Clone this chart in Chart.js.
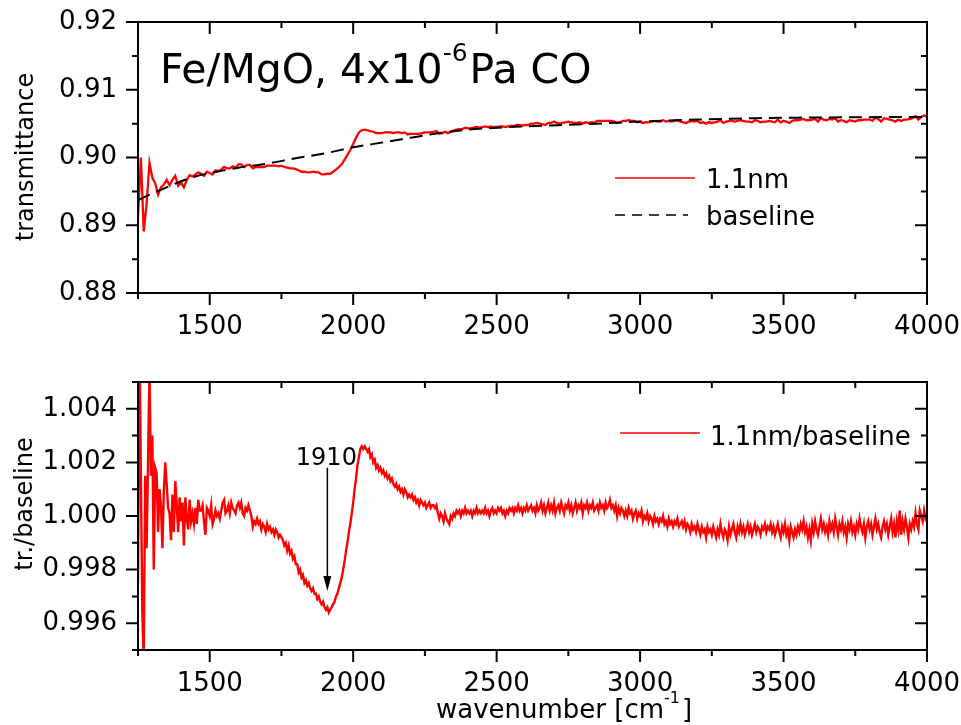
<!DOCTYPE html>
<html>
<head>
<meta charset="utf-8">
<script src="https://cdn.jsdelivr.net/npm/chart.js@4"></script>
<style>
  body { margin: 0; background: #fff; }
  .panel { position: absolute; left: 0; width: 961px; }
</style>
</head>
<body>
<div class="panel" style="top:0;height:345px"><canvas id="top-chart"></canvas></div>
<div class="panel" style="top:345px;height:380px"><canvas id="bottom-chart"></canvas></div>
<script>
const FONT = '"DejaVu Sans", sans-serif';
Chart.defaults.font.family = FONT;
Chart.defaults.color = '#000';

// ── axes ──
const X_MIN = 1250, X_MAX = 4000;
const X_MAJOR = [1500, 2000, 2500, 3000, 3500, 4000];
const X_MINOR = [1250, 1750, 2250, 2750, 3250, 3750];
const TOP_Y_MAJOR = [0.88, 0.89, 0.90, 0.91, 0.92];
const TOP_Y_MINOR = [0.885, 0.895, 0.905, 0.915];
const BOT_Y_MAJOR = [0.996, 0.998, 1.000, 1.002, 1.004];
const BOT_Y_MINOR = [0.995, 0.997, 0.999, 1.001, 1.003, 1.005];

// ── baseline (dashed) ──
const BASELINE_WN = [1250, 1300, 1350, 1400, 1450, 1500, 1550, 1600, 1700, 1800, 1900, 2000,
  2100, 2200, 2300, 2400, 2600, 2800, 3000, 3200, 3400, 3600, 4000];
const BASELINE_T = [0.8937, 0.8947, 0.8956, 0.8965, 0.8972, 0.8977, 0.8981, 0.8985, 0.8991, 0.8999, 0.9006, 0.9015,
  0.9022, 0.9029, 0.9036, 0.9041, 0.9046, 0.9049, 0.9053, 0.9056, 0.9058, 0.9059, 0.9060];

// ── 1.1nm transmittance, sampled every 10 cm-1 from 1250 ──
const TRANS_STEP = 10;
const TRANS = [
  0.8911, 0.9000, 0.8891, 0.8932, 0.8992, 0.8970, 0.8962, 0.8945, 0.8956, 0.8960,
  0.8967, 0.8959, 0.8967, 0.8973, 0.8958, 0.8963, 0.8956, 0.8967, 0.8974, 0.8972,
  0.8975, 0.8978, 0.8976, 0.8973, 0.8979, 0.8977, 0.8975, 0.8981, 0.8980, 0.8982,
  0.8986, 0.8984, 0.8984, 0.8987, 0.8985, 0.8990, 0.8990, 0.8986, 0.8989, 0.8989,
  0.8984, 0.8986, 0.8986, 0.8986, 0.8986, 0.8988, 0.8988, 0.8988, 0.8988, 0.8987,
  0.8988, 0.8986, 0.8985, 0.8984, 0.8984, 0.8983, 0.8981, 0.8979, 0.8979, 0.8978,
  0.8978, 0.8979, 0.8978, 0.8978, 0.8975, 0.8975, 0.8976, 0.8976, 0.8979, 0.8982,
  0.8986, 0.8990, 0.8997, 0.9004, 0.9011, 0.9020, 0.9029, 0.9037, 0.9040, 0.9041,
  0.9040, 0.9039, 0.9038, 0.9036, 0.9036, 0.9036, 0.9037, 0.9037, 0.9037, 0.9036,
  0.9037, 0.9037, 0.9036, 0.9037, 0.9034, 0.9035, 0.9035, 0.9035, 0.9035, 0.9036,
  0.9037, 0.9037, 0.9037, 0.9038, 0.9039, 0.9035, 0.9036, 0.9038, 0.9036, 0.9038,
  0.9040, 0.9041, 0.9042, 0.9042, 0.9044, 0.9043, 0.9043, 0.9044, 0.9045, 0.9044,
  0.9045, 0.9046, 0.9045, 0.9046, 0.9045, 0.9045, 0.9046, 0.9046, 0.9045, 0.9046,
  0.9047, 0.9046, 0.9048, 0.9048, 0.9047, 0.9048, 0.9048, 0.9050, 0.9050, 0.9051,
  0.9050, 0.9049, 0.9048, 0.9051, 0.9051, 0.9053, 0.9051, 0.9050, 0.9051, 0.9052,
  0.9053, 0.9052, 0.9051, 0.9051, 0.9052, 0.9050, 0.9052, 0.9051, 0.9052, 0.9051,
  0.9054, 0.9054, 0.9054, 0.9054, 0.9054, 0.9054, 0.9053, 0.9051, 0.9052, 0.9054,
  0.9054, 0.9055, 0.9054, 0.9054, 0.9052, 0.9053, 0.9051, 0.9052, 0.9052, 0.9053,
  0.9054, 0.9053, 0.9053, 0.9055, 0.9053, 0.9054, 0.9053, 0.9054, 0.9055, 0.9053,
  0.9052, 0.9051, 0.9053, 0.9054, 0.9053, 0.9054, 0.9051, 0.9052, 0.9050, 0.9052,
  0.9051, 0.9052, 0.9053, 0.9055, 0.9051, 0.9053, 0.9054, 0.9054, 0.9053, 0.9054,
  0.9055, 0.9054, 0.9053, 0.9053, 0.9052, 0.9055, 0.9054, 0.9052, 0.9053, 0.9053,
  0.9054, 0.9053, 0.9052, 0.9056, 0.9052, 0.9054, 0.9053, 0.9051, 0.9054, 0.9055,
  0.9055, 0.9056, 0.9057, 0.9055, 0.9055, 0.9056, 0.9057, 0.9053, 0.9058, 0.9056,
  0.9055, 0.9057, 0.9056, 0.9058, 0.9053, 0.9055, 0.9054, 0.9052, 0.9055, 0.9054,
  0.9053, 0.9055, 0.9055, 0.9056, 0.9056, 0.9056, 0.9054, 0.9059, 0.9057, 0.9053,
  0.9058, 0.9057, 0.9056, 0.9055, 0.9053, 0.9056, 0.9054, 0.9056, 0.9056, 0.9057,
  0.9058, 0.9061, 0.9056, 0.9060, 0.9062, 0.9060
];

// ── 1.1nm / baseline, sampled every 5 cm-1 from 1250; stored as (ratio - 1) x 10^4 ──
const RATIO_STEP = 5;
const RATIO_DEV = [
  -25, 70, 15, -35, -55, 15, -12, 20, 55, 15, 30, -20, 18, 16, -6, 10, 4, -12, 9, 20,
  12, 3, 1, -9, 8, -6, 13, 4, -6, 7, -2, 5, -11, 7, -1, -5, 6, -2, 1, -3,
  3, -3, 6, 2, 2, 4, -2, -7, 3, 2, 0, 4, -3, -1, 2, 0, 1, -1, 2, 5,
  6, 1, 2, 4, 1, 5, 3, 2, 1, 4, 5, 3, 5, 1, 0, 3, 2, 4, 2, 0,
  -4, -2, -3, -1, -3, -2, -5, -3, -4, -6, -3, -5, -4, -6, -5, -7, -5, -6, -8, -7,
  -8, -9, -11, -10, -13, -11, -14, -13, -16, -15, -18, -18, -21, -20, -23, -22, -25, -24, -26, -25,
  -27, -28, -27, -29, -29, -31, -30, -32, -33, -32, -34, -35, -34, -36, -35, -34, -33, -32, -30, -29,
  -27, -25, -23, -20, -17, -13, -10, -6, -3, 1, 5, 10, 14, 19, 22, 25, 26, 25, 26, 25,
  24, 25, 22, 23, 20, 21, 18, 19, 17, 18, 16, 17, 15, 16, 14, 15, 13, 14, 12, 11,
  12, 10, 11, 9, 10, 8, 10, 9, 7, 8, 7, 8, 6, 7, 5, 6, 4, 6, 5, 4,
  5, 3, 4, 5, 3, 4, 4, 3, 4, 1, -1, 1, 0, -2, 1, -1, -2, -3, 0, -1,
  1, 0, 2, 1, 2, 0, 2, 1, 3, 1, 2, 1, 2, 0, 2, 1, 3, 1, 2, 1,
  2, 1, 3, 1, 2, 0, 2, 3, 1, 2, 1, 3, 2, 3, 1, 2, 0, 2, 1, 3,
  2, 3, 1, 3, 2, 4, 2, 3, 1, 3, 2, 4, 2, 3, 4, 2, 3, 1, 4, 2,
  3, 5, 2, 4, 1, 3, 5, 2, 4, 2, 5, 1, 3, 4, 2, 5, 3, 1, 4, 3,
  5, 2, 4, 1, 3, 5, 2, 4, 3, 5, 1, 4, 3, 5, 2, 4, 3, 5, 2, 3,
  4, 2, 5, 3, 4, 2, 5, 3, 4, 6, 3, 4, 2, 4, 0, 3, 1, 3, 2, 0,
  2, 0, 3, 1, 2, -1, 1, 2, -1, 1, 0, 2, -2, 0, -1, 1, -2, 0, -1, -3,
  0, -2, -1, -3, -1, -2, 0, -3, -2, -4, -1, -3, -2, -4, -2, -3, -1, -4, -3, -2,
  -4, -2, -5, -3, -4, -6, -3, -5, -4, -6, -3, -5, -7, -4, -6, -5, -8, -4, -6, -5,
  -7, -4, -6, -8, -5, -7, -3, -6, -8, -5, -6, -9, -4, -7, -5, -3, -6, -8, -4, -6,
  -3, -6, -4, -7, -5, -3, -6, -4, -7, -5, -3, -6, -4, -5, -7, -4, -5, -3, -6, -4,
  -5, -3, -6, -4, -7, -5, -3, -6, -8, -4, -6, -3, -7, -5, -9, -4, -6, -8, -5, -7,
  -4, -6, -3, -5, -2, -6, -4, -8, -5, -9, -3, -6, -2, -5, -7, -4, -1, -5, -3, -6,
  -4, -7, -2, -5, -3, -6, -1, -4, -7, -3, -5, -2, -6, -4, -8, -3, -5, -2, -6, -4,
  -7, -3, -5, -1, -4, -6, -3, -8, -4, -2, -5, -3, -7, -4, -1, -5, -3, -6, -8, -4,
  -2, -5, -3, -7, -4, -1, -6, -3, -8, -2, -5, 2, -7, -2, -5, -1, -4, -8, -3, -5,
  -2, -4, 1, -3, -5, 2, 0, -2, 2, -1, 0
];

// ── annotation ──
const PEAK_WN = 1910;
const PEAK_LABEL = '1910';
const ARROW_FROM = 1.0018, ARROW_TO = 0.9972;

const RED = '#ff0000';

const transData = TRANS.map((t, i) => ({ x: X_MIN + i * TRANS_STEP, y: t }));
const baseData = BASELINE_WN.map((w, i) => ({ x: w, y: BASELINE_T[i] }));
const ratioData = RATIO_DEV.map((d, i) => ({ x: X_MIN + i * RATIO_STEP, y: 1 + d / 1e4 }));

// frame with mirrored ticks: left/bottom outward, top/right inward
function framePlugin(yMajor, yMinor) {
  return {
    id: 'frame',
    afterDraw(chart) {
      const { ctx, chartArea: a, scales: { x, y } } = chart;
      ctx.save();
      ctx.strokeStyle = '#000';
      ctx.lineWidth = 2;
      ctx.strokeRect(a.left, a.top, a.right - a.left, a.bottom - a.top);
      ctx.beginPath();
      [[X_MAJOR, 12], [X_MINOR, 6]].forEach(([vals, len]) => vals.forEach(v => {
        const px = x.getPixelForValue(v);
        ctx.moveTo(px, a.bottom); ctx.lineTo(px, a.bottom + len);
        ctx.moveTo(px, a.top); ctx.lineTo(px, a.top + len);
      }));
      [[yMajor, 12], [yMinor, 6]].forEach(([vals, len]) => vals.forEach(v => {
        const py = y.getPixelForValue(v);
        ctx.moveTo(a.left, py); ctx.lineTo(a.left - len, py);
        ctx.moveTo(a.right, py); ctx.lineTo(a.right - len, py);
      }));
      ctx.stroke();
      ctx.restore();
    }
  };
}

// text runs with superscripts: [text, size, dy]
function drawRuns(ctx, runs, x, y) {
  runs.forEach(([text, size, dy]) => {
    ctx.font = `${size}px ${FONT}`;
    ctx.fillText(text, x, y + (dy || 0));
    x += ctx.measureText(text).width + (dy ? 2 : 0);
  });
}

function drawYTitle(ctx, text, x, cy) {
  ctx.save();
  ctx.translate(x, cy);
  ctx.rotate(-Math.PI / 2);
  ctx.font = `24px ${FONT}`;
  ctx.textAlign = 'center';
  ctx.textBaseline = 'alphabetic';
  ctx.fillText(text, 0, 0);
  ctx.restore();
}

function legendLine(ctx, x0, x1, y, color, dash) {
  ctx.save();
  ctx.strokeStyle = color;
  ctx.lineWidth = 1.6;
  ctx.setLineDash(dash || []);
  ctx.beginPath(); ctx.moveTo(x0, y); ctx.lineTo(x1, y); ctx.stroke();
  ctx.restore();
}

const topDecor = {
  id: 'decor',
  afterDraw(chart) {
    const { ctx } = chart;
    ctx.save();
    ctx.fillStyle = '#000';
    ctx.textBaseline = 'alphabetic';
    drawRuns(ctx, [['Fe/MgO, 4x10', 41], ['-6', 25, -22], ['Pa CO', 41]], 160, 83);
    drawYTitle(ctx, 'transmittance', 33, 157);
    legendLine(ctx, 615, 695, 178, RED);
    legendLine(ctx, 615, 688, 215, '#000', [10, 7]);
    ctx.font = `26px ${FONT}`;
    ctx.fillText('1.1nm', 706, 188);
    ctx.fillText('baseline', 706, 225);
    ctx.restore();
  }
};

const bottomDecor = {
  id: 'decor',
  afterDraw(chart) {
    const { ctx, scales: { x, y } } = chart;
    ctx.save();
    ctx.fillStyle = '#000';
    ctx.strokeStyle = '#000';
    ctx.textBaseline = 'alphabetic';
    drawYTitle(ctx, 'tr./baseline', 32, 159);
    drawRuns(ctx, [['wavenumber [cm', 26], ['-1', 16, -15], [']', 26]], 436, 373);
    legendLine(ctx, 620, 700, 88, RED);
    ctx.font = `26px ${FONT}`;
    ctx.fillText('1.1nm/baseline', 710, 100);
    // 1910 arrow
    const px = x.getPixelForValue(PEAK_WN);
    const y0 = y.getPixelForValue(ARROW_FROM), y1 = y.getPixelForValue(ARROW_TO);
    ctx.lineWidth = 1.5;
    ctx.beginPath(); ctx.moveTo(px, y0); ctx.lineTo(px, y1 - 12); ctx.stroke();
    ctx.beginPath(); ctx.moveTo(px, y1); ctx.lineTo(px - 4, y1 - 15); ctx.lineTo(px + 4, y1 - 15); ctx.closePath(); ctx.fill();
    ctx.font = `24px ${FONT}`;
    ctx.textAlign = 'center';
    ctx.fillText(PEAK_LABEL, px - 1, y0 - 3);
    ctx.restore();
  }
};

function xScale(height) {
  return {
    type: 'linear', position: 'bottom', min: X_MIN, max: X_MAX,
    afterBuildTicks: s => { s.ticks = X_MAJOR.map(v => ({ value: v })); },
    afterFit: s => { s.height = height; s.paddingLeft = 0; s.paddingRight = 0; },
    ticks: { autoSkip: false, maxRotation: 0, padding: 7, font: { size: 26 }, color: '#000', callback: v => String(v) },
    grid: { color: 'transparent', drawOnChartArea: false, tickLength: 12 },
    border: { display: false },
  };
}

function yScale(min, max, major, digits) {
  return {
    type: 'linear', min, max,
    afterBuildTicks: s => { s.ticks = major.map(v => ({ value: v })); },
    afterFit: s => { s.width = 138; s.paddingTop = 0; s.paddingBottom = 0; },
    ticks: { padding: 9, font: { size: 26 }, color: '#000', callback: v => Number(v).toFixed(digits) },
    grid: { color: 'transparent', drawOnChartArea: false, tickLength: 12 },
    border: { display: false },
  };
}

const common = {
  responsive: true, maintainAspectRatio: false, animation: false, events: [],
  plugins: { legend: { display: false }, tooltip: { enabled: false } },
};

new Chart(document.getElementById('top-chart'), {
  type: 'line',
  data: {
    datasets: [
      { label: 'baseline', data: baseData, borderColor: '#000', borderWidth: 2, borderDash: [13, 7], pointRadius: 0, tension: 0.4, cubicInterpolationMode: 'monotone' },
      { label: '1.1nm', data: transData, borderColor: RED, borderWidth: 2.3, pointRadius: 0, tension: 0 },
    ],
  },
  options: {
    ...common,
    layout: { padding: { top: 22, right: 34, left: 0, bottom: 0 } },
    scales: { x: xScale(52), y: yScale(0.88, 0.92, TOP_Y_MAJOR, 2) },
  },
  plugins: [framePlugin(TOP_Y_MAJOR, TOP_Y_MINOR), topDecor],
});

new Chart(document.getElementById('bottom-chart'), {
  type: 'line',
  data: {
    datasets: [
      { label: '1.1nm/baseline', data: ratioData, borderColor: RED, borderWidth: 2.4, pointRadius: 0, tension: 0 },
    ],
  },
  options: {
    ...common,
    layout: { padding: { top: 37, right: 34, left: 0, bottom: 0 } },
    scales: { x: xScale(75), y: yScale(0.995, 1.005, BOT_Y_MAJOR, 3) },
  },
  plugins: [framePlugin(BOT_Y_MAJOR, BOT_Y_MINOR), bottomDecor],
});
</script>
</body>
</html>
